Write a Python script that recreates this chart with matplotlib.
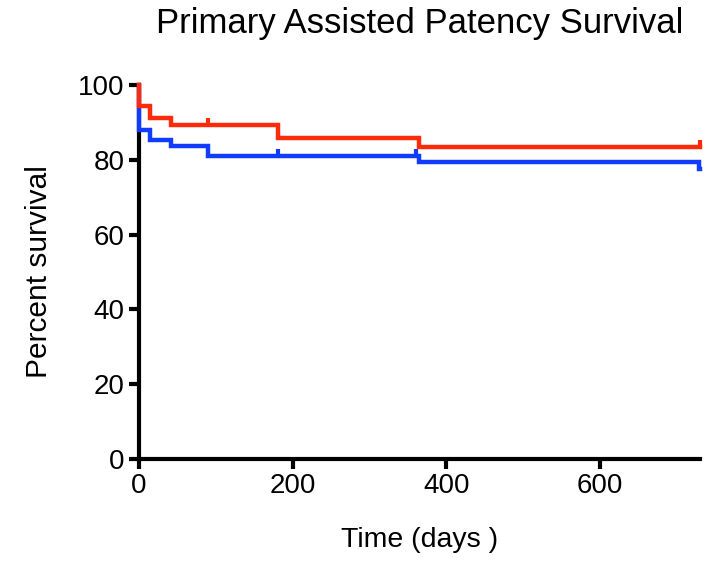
import matplotlib.pyplot as plt

plt.rcParams['font.family'] = ['Liberation Sans', 'DejaVu Sans']

# step curves (time in days, percent surviving)
red_t = [0, 0, 14, 42, 181, 365, 730]
red_s = [100, 94.5, 91.3, 89.3, 85.7, 83.4, 83.4]
blue_t = [0, 0, 14, 42, 90, 365, 728, 730]
blue_s = [100, 88.0, 85.4, 83.7, 80.9, 79.3, 77.6, 77.6]

# censored observations
red_cens_t = [90, 730]
red_cens_s = [89.3, 83.4]
blue_cens_t = [181, 360]
blue_cens_s = [80.9, 80.9]

xticks = [0, 200, 400, 600]
yticks = [0, 20, 40, 60, 80, 100]

fig = plt.figure(figsize=(7.05, 5.63), dpi=100)
ax = fig.add_axes([0.197, 0.185, 0.796, 0.664])

ax.step(blue_t, blue_s, where='post', color='#0f3cff', lw=3.2, solid_joinstyle='miter', clip_on=False)
ax.vlines(blue_cens_t, blue_cens_s, [s + 2 for s in blue_cens_s], color='#0f3cff', lw=3, clip_on=False)
ax.step(red_t, red_s, where='post', color='#ff2a0a', lw=3.2, solid_joinstyle='miter', clip_on=False)
ax.vlines(red_cens_t, red_cens_s, [s + 2 for s in red_cens_s], color='#ff2a0a', lw=3, clip_on=False)

ax.set_xlim(0, 730)
ax.set_ylim(0, 100)
ax.set_xticks(xticks)
ax.set_yticks(yticks)
for side in ['top', 'right']:
    ax.spines[side].set_visible(False)
for side in ['left', 'bottom']:
    ax.spines[side].set_linewidth(3)
ax.tick_params(width=3, length=7.5, labelsize=20, direction='out', pad=3)
ax.spines['left'].set_zorder(0.5)

ax.set_xlabel("Time (days )", fontsize=20.5, labelpad=20)
ax.set_ylabel("Percent survival", fontsize=21.5, labelpad=18)
fig.text(0.596, 0.958, "Primary Assisted Patency Survival", fontsize=25, ha='center', va='center')

plt.savefig("out.png")
